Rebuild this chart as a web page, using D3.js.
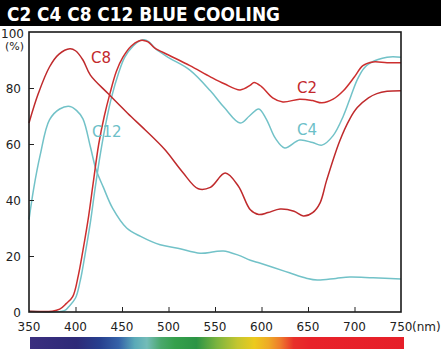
<!DOCTYPE html>
<html><head><meta charset="utf-8">
<script src="https://cdn.jsdelivr.net/npm/d3@7"></script>
<style>body{margin:0;background:#fff}svg{display:block}</style>
</head><body><svg id="c" width="444" height="354"></svg>
<script>
const title = "C2 C4 C8 C12  BLUE COOLING";
const xTicks = [350,400,450,500,550,600,650,700,750];
const yTicks = [0,20,40,60,80];
const c2 = [[350,0.3],[375,0.3],[383,1],[390,3],[397,5.5],[403,13],[408,22],[414,34],[419,46],[425,60],[431,70],[437,78],[444,86],[451,91],[460,95],[468,96.8],[473,97],[478,96.5],[485,94.3],[500,91.8],[523,88],[545,84],[560,81.5],[577,79.3],[588,81],[592,82],[600,80.5],[612,76.5],[623,75],[641,76],[655,75.5],[665,74.7],[677,76],[688,79],[700,84],[709,88],[720,89.3],[735,89],[750,89]];
const c4 = [[350,0.3],[388,0.5],[393,2],[400,5],[405,11],[410,20],[416,32],[421,44],[427,57],[433,68],[439,77],[446,85],[453,91],[462,95],[470,97],[474,97.2],[479,96.5],[486,94],[501,90.7],[523,86.4],[545,79],[560,73],[577,67.5],[587,70],[597,72.5],[605,69],[615,62],[625,58.6],[641,61.4],[655,60.5],[665,59.6],[677,63],[688,70],[696,77],[703,83],[710,87],[717,89],[735,91],[750,91]];
const c8 = [[350,67.5],[360,78],[372,87.5],[382,92],[394,94],[400,93.3],[408,90],[416,84.6],[435,78],[456,71],[475,65],[496,58],[515,50],[532,44],[545,44.5],[561,49.6],[575,45],[588,36.5],[597,34.8],[607,35.5],[620,36.8],[635,36],[645,34.3],[655,35.5],[663,39],[670,47],[684,61],[695,69],[703,73],[715,76.5],[724,78],[735,78.8],[750,79]];
const c12 = [[350,33],[355,44],[362,56],[372,68.6],[383,72.5],[394,73.4],[401,72],[408,69],[416,59],[422,51],[430,44.5],[440,37],[455,30],[470,27],[491,24],[510,22.8],[534,21],[549,21.5],[559,21.8],[575,20.3],[588,18.5],[598,17.5],[612,16],[630,14],[649,12],[660,11.4],[680,12],[695,12.5],[720,12.2],[750,11.8]];
const spectrum = [[350,"#3b2f7f"],[400,"#2e2a78"],[425,"#27408f"],[445,"#3562a8"],[462,"#5aaab8"],[475,"#74bcb8"],[490,"#4aa86c"],[505,"#35a04c"],[528,"#2c9445"],[550,"#7cb43e"],[572,"#c4c630"],[590,"#ecca1e"],[605,"#eeaa26"],[618,"#ee7a2c"],[632,"#e8302a"],[650,"#e8222a"],[750,"#e61f29"]];

const svg = d3.select("#c");
const font = "DejaVu Sans, sans-serif";
const x = d3.scaleLinear().domain([350,750]).range([29,401]);
const y = d3.scaleLinear().domain([0,100]).range([312,32]);

// title bar
svg.append("rect").attr("x",0).attr("y",0).attr("width",441).attr("height",26).attr("fill","#000");
svg.append("text").attr("x",7).attr("y",21).attr("fill","#fff").attr("font-family",font)
  .attr("font-weight","bold").attr("font-size",19).attr("textLength",273).attr("lengthAdjust","spacingAndGlyphs").text(title);

// spectrum
const grad = svg.append("defs").append("linearGradient").attr("id","spec").attr("x1","0").attr("x2","1").attr("y1","0").attr("y2","0");
spectrum.forEach(d=>grad.append("stop").attr("offset",(d[0]-350)/400).attr("stop-color",d[1]));
svg.append("rect").attr("x",30).attr("y",337).attr("width",374).attr("height",12).attr("fill","url(#spec)");

// curves
const line = d3.line().x(d=>x(d[0])).y(d=>y(d[1])).curve(d3.curveCatmullRom.alpha(0.5));
const g = svg.append("g");
[[c12,"#72c2c8"],[c4,"#72c2c8"],[c8,"#bf2a2c"],[c2,"#cc2e2e"]].forEach(([d,col])=>{
  g.append("path").datum(d).attr("d",line).attr("fill","none").attr("stroke",col).attr("stroke-width",1.5);
});

// frame
svg.append("rect").attr("x",x(350)).attr("y",y(100)).attr("width",x(750)-x(350)).attr("height",y(0)-y(100))
  .attr("fill","none").attr("stroke","#1a1a1a").attr("stroke-width",1.6);

// x axis
const xa = svg.append("g").attr("transform",`translate(0,${y(0)})`)
  .call(d3.axisBottom(x).tickValues(xTicks.slice(1,-1)).tickSize(-5).tickFormat(""));
xa.select(".domain").remove();
xa.selectAll("line").attr("stroke","#222");
svg.selectAll(".xl").data(xTicks).join("text").attr("class","xl")
  .attr("x",d=>x(d)).attr("y",331).attr("text-anchor","middle").attr("font-family",font)
  .attr("font-size",12).attr("fill","#222").text(d=>d);
svg.append("text").attr("x",x(750)+11).attr("y",331).attr("font-family",font).attr("font-size",12).attr("fill","#222").text("(nm)");

// y axis
const ya = svg.append("g").attr("transform",`translate(${x(350)},0)`)
  .call(d3.axisLeft(y).tickValues(yTicks.slice(1)).tickSize(-5).tickFormat(""));
ya.select(".domain").remove();
ya.selectAll("line").attr("stroke","#222");
svg.selectAll(".yl").data(yTicks).join("text").attr("class","yl")
  .attr("x",21).attr("y",d=>y(d)+4.5).attr("text-anchor","end").attr("font-family",font)
  .attr("font-size",12).attr("fill","#222").text(d=>d);
svg.append("text").attr("x",24).attr("y",38).attr("text-anchor","end").attr("font-family",font).attr("font-size",12).attr("fill","#222").text("100");
svg.append("text").attr("x",24).attr("y",50).attr("text-anchor","end").attr("font-family",font).attr("font-size",11).attr("fill","#222").text("(%)");

// series labels
const lab = [["C8",91,63,"#c3282c"],["C2",297,93,"#c3282c"],["C4",297,135,"#6cc0c8"],["C12",92,137,"#6cc0c8"]];
lab.forEach(([t,lx,ly,col])=>svg.append("text").attr("x",lx).attr("y",ly).attr("font-family",font).attr("font-size",15).attr("fill",col).text(t));
</script></body></html>
